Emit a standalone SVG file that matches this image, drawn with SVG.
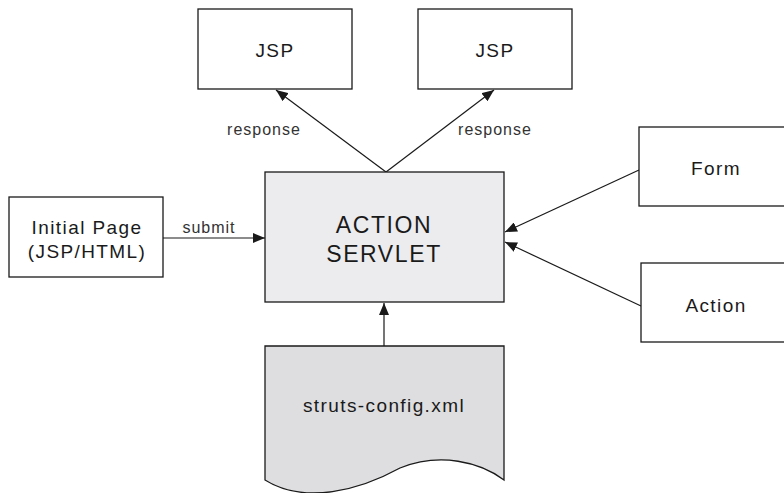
<svg xmlns="http://www.w3.org/2000/svg" width="784" height="493" viewBox="0 0 784 493">
  <style>
    .box { fill: #ffffff; stroke: #1a1a1a; stroke-width: 1.3; }
    .servlet { fill: #ececee; stroke: #1a1a1a; stroke-width: 1.3; }
    .doc { fill: #dedee0; stroke: #1a1a1a; stroke-width: 1.3; }
    .edge { fill: none; stroke: #1a1a1a; stroke-width: 1.2; marker-end: url(#arrow); }
    .t { font-family: "Liberation Sans", Arial, sans-serif; fill: #1a1a1a; text-anchor: middle; }
    .node { font-size: 19px; letter-spacing: 1.4px; }
    .big { font-size: 23px; letter-spacing: 1.6px; }
    .lbl { font-size: 16px; fill: #333333; letter-spacing: 1px; }
  </style>
  <defs>
    <marker id="arrow" viewBox="0 0 12 10" refX="12" refY="5" markerWidth="12" markerHeight="10" markerUnits="userSpaceOnUse" orient="auto">
      <path d="M0,0 L12,5 L0,10 z" fill="#1a1a1a"/>
    </marker>
  </defs>

  <!-- connectors -->
  <g id="connectors">
    <line class="edge" x1="386" y1="172" x2="276" y2="90"/>
    <line class="edge" x1="386" y1="172" x2="494" y2="90"/>
    <line class="edge" x1="163" y1="238" x2="265" y2="238"/>
    <line class="edge" x1="639" y1="170" x2="505" y2="232"/>
    <line class="edge" x1="641" y1="306" x2="505" y2="242"/>
    <line class="edge" x1="384" y1="346" x2="384" y2="303"/>
    <text class="t lbl" x="264" y="135">response</text>
    <text class="t lbl" x="495" y="135">response</text>
    <text class="t lbl" x="209" y="233">submit</text>
  </g>

  <g id="jsp-left">
    <rect class="box" x="198" y="9" width="154" height="80"/>
    <text class="t node" x="275" y="57">JSP</text>
  </g>

  <g id="jsp-right">
    <rect class="box" x="418" y="9" width="154" height="80"/>
    <text class="t node" x="495" y="57">JSP</text>
  </g>

  <g id="initial-page">
    <rect class="box" x="9" y="197" width="154" height="80"/>
    <text class="t node" x="87" y="234">Initial Page</text>
    <text class="t node" x="87" y="258">(JSP/HTML)</text>
  </g>

  <g id="action-servlet">
    <rect class="servlet" x="265" y="172" width="239" height="130"/>
    <text class="t big" x="384" y="233">ACTION</text>
    <text class="t big" x="384" y="262">SERVLET</text>
  </g>

  <g id="form">
    <rect class="box" x="639" y="127" width="160" height="79"/>
    <text class="t node" x="716" y="175">Form</text>
  </g>

  <g id="action">
    <rect class="box" x="641" y="263" width="160" height="79"/>
    <text class="t node" x="716" y="312">Action</text>
  </g>

  <g id="struts-config">
    <path class="doc" d="M265,346 H504 V480 C480,462 440,452 400,468 C360,490 305,505 265,480 Z"/>
    <text class="t node" x="384" y="412">struts-config.xml</text>
  </g>
</svg>
